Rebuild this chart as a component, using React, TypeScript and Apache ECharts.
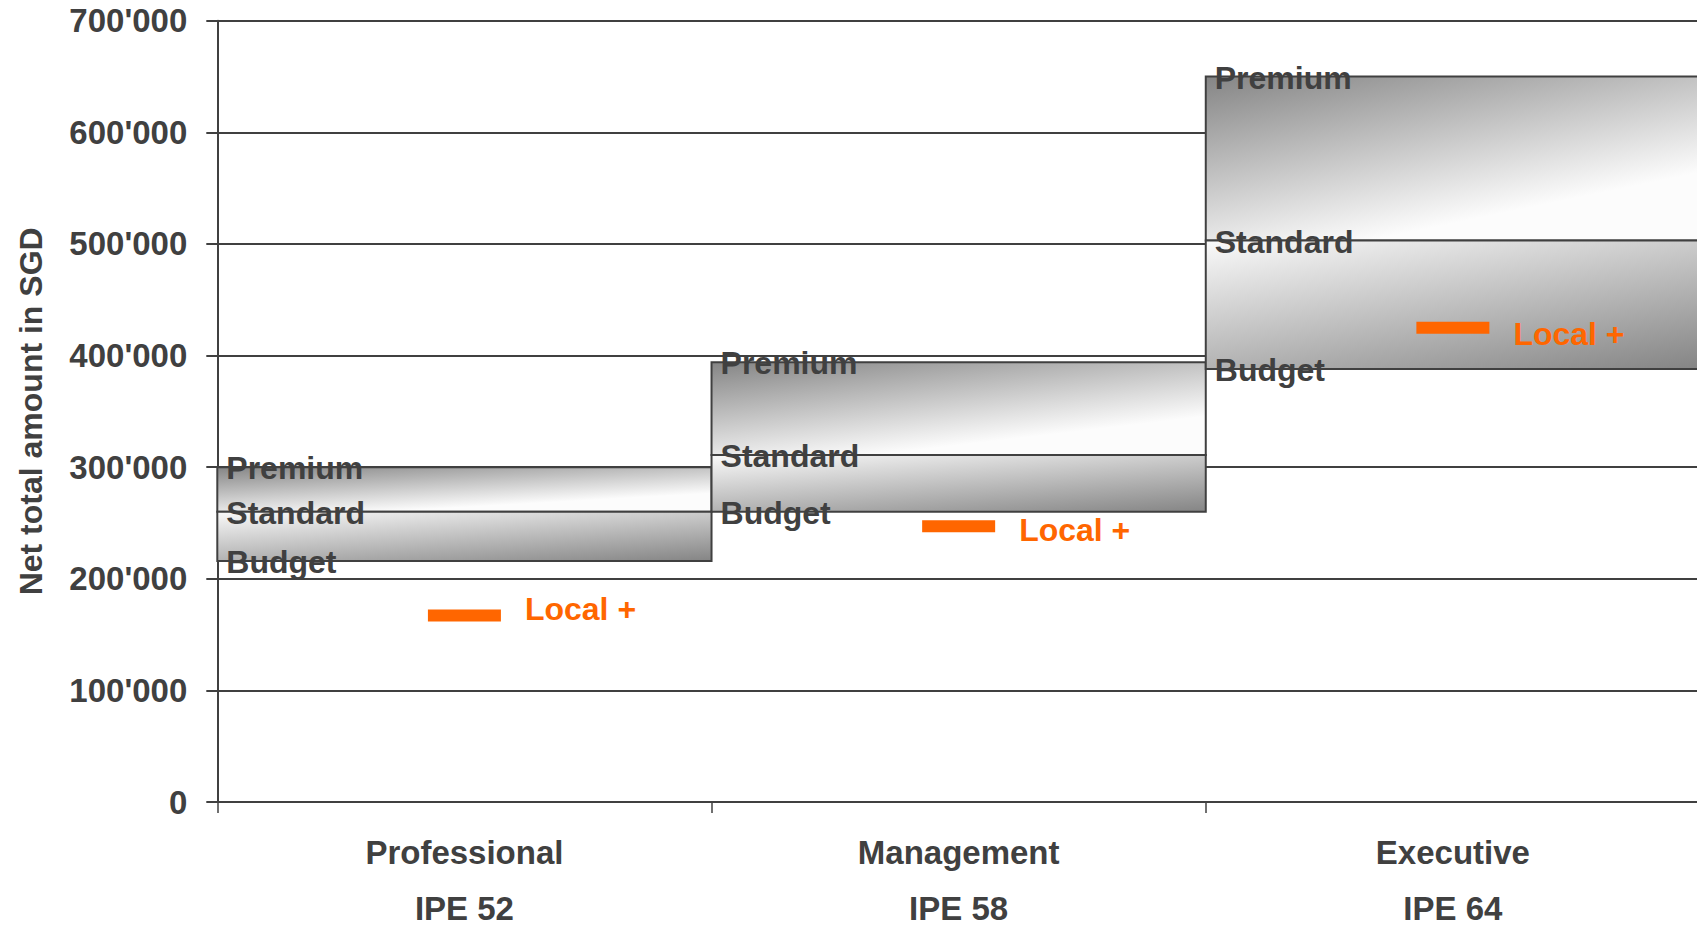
import React, { useEffect, useRef } from "react";
import * as echarts from "echarts";

// ---- data ----
const categories = ["Professional", "Management", "Executive"];
const ipeLevels = ["IPE 52", "IPE 58", "IPE 64"];
const budget = [216000, 260000, 388000];
const standard = [260000, 311000, 503000];
const premium = [300000, 394000, 650000];
const localPlus = [167000, 247000, 425000];
const bandNames = ["Budget", "Standard", "Premium"];
const localLabel = "Local +";
const yTickLabels = ["0", "100'000", "200'000", "300'000", "400'000", "500'000", "600'000", "700'000"];
const yAxisTitle = "Net total amount in SGD";

// ---- styles ----
const DARK = "#404040";
const ORANGE = "#ff6600";
const FONT = "'Liberation Sans', Arial, sans-serif";
const localLabelNudge = [-7, 4, 6];

export default function App() {
  const ref = useRef<HTMLDivElement>(null);

  useEffect(() => {
    if (!ref.current) return;
    const chart = echarts.init(ref.current, null, { renderer: "svg" });

    const upperGrad = () =>
      new echarts.graphic.LinearGradient(0, 0, 0.54, 0.87, [
        { offset: 0, color: "#858585" },
        { offset: 1, color: "#fcfcfc" },
      ]);
    const lowerGrad = () =>
      new echarts.graphic.LinearGradient(0, 0, 0.87, 1.37, [
        { offset: 0, color: "#fafafa" },
        { offset: 1, color: "#707070" },
      ]);

    const bandData = categories.map((_, i) => [i, budget[i], standard[i], premium[i]]);

    const labelStyle = (text: string) => ({
      text,
      fill: DARK,
      fontSize: 32,
      fontWeight: "bold",
      fontFamily: FONT,
      align: "left",
      verticalAlign: "middle",
    });

    const option: any = {
      animation: false,
      backgroundColor: "#ffffff",
      grid: {
        left: 217.3,
        right: -3,
        top: 20.7,
        bottom: 123,
        containLabel: false,
        outerBoundsMode: "none",
      },
      xAxis: {
        type: "category",
        data: categories.map((c, i) => `${c}\n${ipeLevels[i]}`),
        boundaryGap: true,
        axisLine: { show: true, lineStyle: { color: DARK, width: 2 } },
        axisTick: { show: true, length: 11, lineStyle: { color: DARK, width: 1.5 } },
        axisLabel: {
          color: DARK,
          fontSize: 33,
          fontWeight: "bold",
          fontFamily: FONT,
          lineHeight: 56,
          margin: 22,
        },
        splitLine: { show: false },
      },
      yAxis: {
        type: "value",
        min: 0,
        max: 700000,
        interval: 100000,
        name: yAxisTitle,
        nameLocation: "middle",
        nameRotate: 90,
        nameGap: 170,
        nameTextStyle: { color: DARK, fontSize: 32, fontWeight: "bold", fontFamily: FONT },
        axisLine: { show: true, lineStyle: { color: DARK, width: 2 } },
        axisTick: { show: true, length: 11, lineStyle: { color: DARK, width: 2 } },
        axisLabel: {
          color: DARK,
          fontSize: 33,
          fontWeight: "bold",
          fontFamily: FONT,
          margin: 30,
          formatter: (v: number) => yTickLabels[Math.round(v / 100000)],
        },
        splitLine: { show: true, lineStyle: { color: DARK, width: 2 } },
      },
      series: [
        {
          type: "custom",
          clip: false,
          data: bandData,
          renderItem: (params: any, api: any) => {
            const i = api.value(0);
            const b = api.coord([i, api.value(1)]);
            const s = api.coord([i, api.value(2)]);
            const p = api.coord([i, api.value(3)]);
            const w = api.size([1, 0])[0];
            const x0 = b[0] - w / 2;
            return {
              type: "group",
              children: [
                {
                  type: "rect",
                  shape: { x: x0, y: p[1], width: w, height: s[1] - p[1] },
                  style: { fill: upperGrad(), stroke: DARK, lineWidth: 2 },
                },
                {
                  type: "rect",
                  shape: { x: x0, y: s[1], width: w, height: b[1] - s[1] },
                  style: { fill: lowerGrad(), stroke: DARK, lineWidth: 2 },
                },
                { type: "text", x: x0 + 9, y: p[1] + 1, style: labelStyle(bandNames[2]) },
                { type: "text", x: x0 + 9, y: s[1] + 1, style: labelStyle(bandNames[1]) },
                { type: "text", x: x0 + 9, y: b[1] + 1, style: labelStyle(bandNames[0]) },
              ],
            };
          },
          z: 2,
        },
        {
          type: "scatter",
          data: localPlus.map((v, i) => ({
            value: [i, v],
            label: { offset: [0, localLabelNudge[i]] },
          })),
          symbol: "rect",
          symbolSize: [73, 12],
          itemStyle: { color: ORANGE, opacity: 1 },
          label: {
            show: true,
            position: "right",
            distance: 24,
            formatter: localLabel,
            color: ORANGE,
            fontSize: 32,
            fontWeight: "bold",
            fontFamily: FONT,
          },
          emphasis: { disabled: true },
          z: 3,
        },
      ],
    };

    chart.setOption(option);
    return () => chart.dispose();
  }, []);

  return (
    <div
      ref={ref}
      style={{ position: "fixed", left: 0, top: 0, width: 1697, height: 925, background: "#fff" }}
    />
  );
}
